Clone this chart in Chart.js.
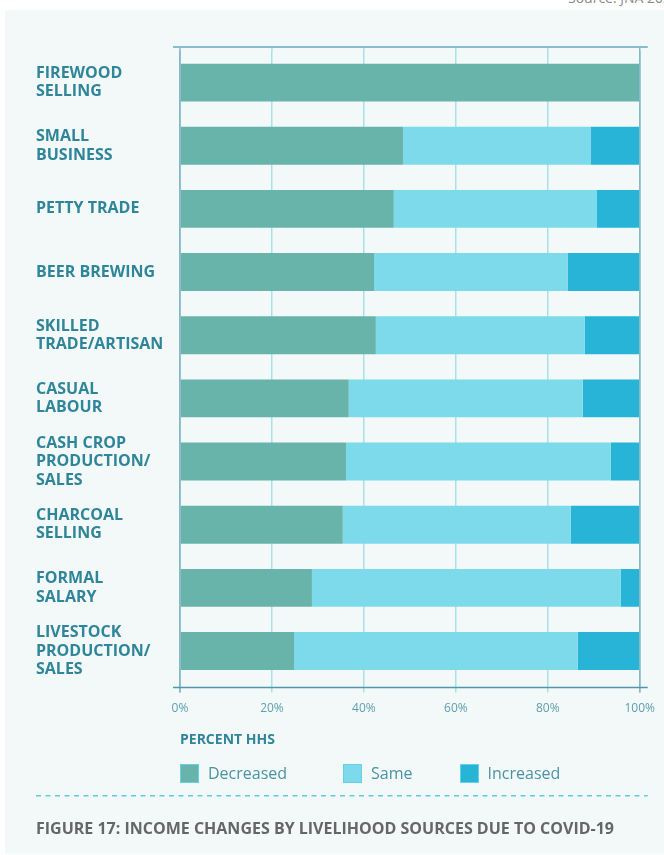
<!DOCTYPE html>
<html>
<head>
<meta charset="utf-8">
<script src="https://cdn.jsdelivr.net/npm/chart.js@4/dist/chart.umd.min.js"></script>
<style>
  html, body { margin: 0; padding: 0; background: #ffffff; width: 664px; height: 855px; overflow: hidden; }
  #panel { position: absolute; left: 5px; top: 10px; width: 659px; height: 844px; background: #f3f9f9; }
  #src { position: absolute; left: 568px; top: -9px; font: 14px/14px 'Open Sans', sans-serif; color: #8a8a8a; white-space: nowrap; }
  #wrap { position: absolute; left: 0; top: 0; width: 664px; height: 855px; }
  #legend { position: absolute; left: 180px; top: 762px; display: flex; align-items: center;
            font: 16px 'Open Sans', sans-serif; color: #4b93a4; }
  #legend .item { display: flex; align-items: center; }
  #legend .box { width: 19px; height: 19px; box-sizing: border-box; border: 1px solid #66d0e6; margin-right: 9px; }
</style>
</head>
<body>
<div id="panel"></div>
<div id="src">Source: JNA 2020</div>
<div id="wrap"><canvas id="c"></canvas></div>
<div id="legend"></div>
<script>
// Livelihood sources, top to bottom
const categories = [
  ["FIREWOOD", "SELLING"],
  ["SMALL", "BUSINESS"],
  "PETTY TRADE",
  "BEER BREWING",
  ["SKILLED", "TRADE/ARTISAN"],
  ["CASUAL", "LABOUR"],
  ["CASH CROP", "PRODUCTION/", "SALES"],
  ["CHARCOAL", "SELLING"],
  ["FORMAL", "SALARY"],
  ["LIVESTOCK", "PRODUCTION/", "SALES"]
];

// Share of households (%) reporting each income change
const decreased = [100, 48.5, 46.5, 42.2, 42.6, 36.7, 36.1, 35.4, 28.7, 24.8];
const same      = [0,   40.8, 44.2, 42.1, 45.4, 50.9, 57.6, 49.6, 67.2, 61.7];
const increased = [0,   10.7,  9.3, 15.7, 12.0, 12.4,  6.3, 15.0,  4.1, 13.5];

const seriesNames = ["Decreased", "Same", "Increased"];
const xTicks = [0, 20, 40, 60, 80, 100];

const COLORS = { decreased: "#69b4aa", same: "#7cdaea", increased: "#27b4d6" };
const LABEL = "#2f8599";

Chart.defaults.font.family = "'Open Sans', sans-serif";

// Frame lines above/below the plot and the dashed separator above the caption
const framePlugin = {
  id: "frame",
  afterDatasetsDraw(chart) {
    const { ctx, chartArea: a, scales: { x } } = chart;
    ctx.save();
    ctx.lineWidth = 1.5;
    xTicks.forEach(v => {
      const px = x.getPixelForValue(v);
      const edge = v === 0 || v === 100;
      ctx.strokeStyle = edge ? "#86b8c5" : "#a9e1eb";
      ctx.beginPath();
      ctx.moveTo(px, a.top - 4);
      ctx.lineTo(px, edge ? a.bottom + 10 : a.top);
      ctx.stroke();
    });
    ctx.strokeStyle = "#86bccb";
    ctx.lineWidth = 2;
    ctx.beginPath();
    ctx.moveTo(a.left - 7, a.top - 4);
    ctx.lineTo(a.right + 8, a.top - 4);
    ctx.stroke();
    ctx.strokeStyle = "#4f97a9";
    ctx.lineWidth = 1.5;
    ctx.beginPath();
    ctx.moveTo(a.left - 7, a.bottom + 5);
    ctx.lineTo(a.right + 8, a.bottom + 5);
    ctx.stroke();

    const t = chart.titleBlock;
    const y = t.top - 24;
    ctx.strokeStyle = "#5ccde4";
    ctx.lineWidth = 1.5;
    ctx.setLineDash([5, 4.5]);
    ctx.beginPath();
    ctx.moveTo(36, y);
    ctx.lineTo(a.right + 8, y);
    ctx.stroke();
    ctx.restore();
  }
};

// Legend rendered as HTML from the chart's own legend items
const htmlLegend = {
  id: "htmlLegend",
  afterUpdate(chart) {
    const el = document.getElementById("legend");
    el.innerHTML = "";
    const items = chart.options.plugins.legend.labels.generateLabels(chart);
    const gaps = [56, 47, 0];
    items.forEach((it, i) => {
      const d = document.createElement("div");
      d.className = "item";
      d.style.marginRight = gaps[i] + "px";
      const b = document.createElement("span");
      b.className = "box";
      b.style.background = it.fillStyle;
      const s = document.createElement("span");
      s.textContent = it.text;
      d.appendChild(b);
      d.appendChild(s);
      el.appendChild(d);
    });
  }
};

new Chart(document.getElementById("c"), {
  type: "bar",
  data: {
    labels: categories,
    datasets: [
      { label: seriesNames[0], data: decreased, backgroundColor: COLORS.decreased },
      { label: seriesNames[1], data: same, backgroundColor: COLORS.same },
      { label: seriesNames[2], data: increased, backgroundColor: COLORS.increased }
    ]
  },
  options: {
    indexAxis: "y",
    responsive: true,
    maintainAspectRatio: false,
    animation: false,
    datasets: { bar: { barPercentage: 0.6, categoryPercentage: 1.0, borderWidth: 0 } },
    layout: { padding: { top: 51, left: 36, right: 24, bottom: 16 } },
    scales: {
      x: {
        stacked: true,
        min: 0,
        max: 100,
        afterBuildTicks(scale) { scale.ticks = xTicks.map(v => ({ value: v })); },
        ticks: { callback: v => v + "%", color: "#5f9fb0", font: { size: 12 }, padding: 9 },
        grid: {
          color: c => (c.tick && (c.tick.value === 0 || c.tick.value === 100)) ? "#86b8c5" : "#a9e1eb",
          lineWidth: 1.5,
          tickLength: 10
        },
        border: { display: false },
        title: {
          display: true,
          text: "PERCENT HHS",
          align: "start",
          color: LABEL,
          font: { size: 14, weight: "bold" },
          padding: { top: 7, bottom: 71 }
        }
      },
      y: {
        stacked: true,
        grid: { display: false },
        border: { display: false },
        ticks: {
          crossAlign: "far",
          color: LABEL,
          font: { size: 16, weight: "bold", lineHeight: 1.15 },
          padding: 0
        },
        afterFit(scale) { scale.width = 144; }
      }
    },
    plugins: {
      legend: { display: false },
      tooltip: { enabled: false },
      title: {
        display: true,
        position: "bottom",
        align: "start",
        text: "FIGURE 17: INCOME CHANGES BY LIVELIHOOD SOURCES DUE TO COVID-19",
        color: "#666666",
        font: { size: 16, weight: "bold" },
        padding: 0
      }
    }
  },
  plugins: [framePlugin, htmlLegend]
});
</script>
</body>
</html>
